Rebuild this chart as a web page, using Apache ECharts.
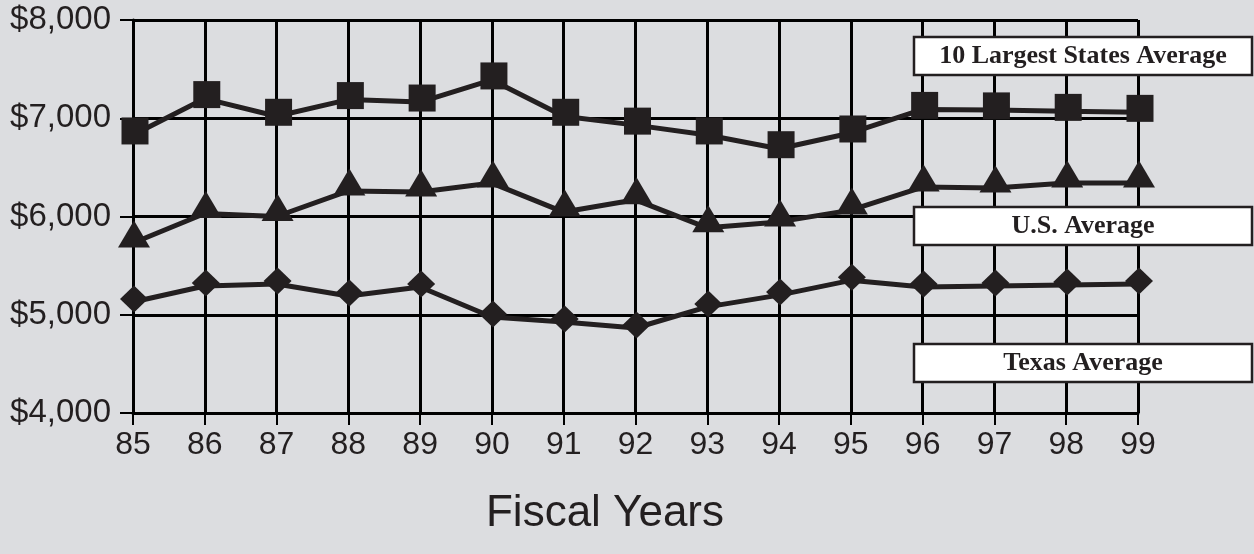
<!DOCTYPE html>
<html>
<head>
<meta charset="utf-8">
<style>
  html, body { margin: 0; padding: 0; background: #dcdde0; }
  #chart { width: 1254px; height: 554px; }
</style>
<script src="https://cdn.jsdelivr.net/npm/echarts@6/dist/echarts.min.js"></script>
</head>
<body>
<div id="chart"></div>
<script>
// Fiscal years (19xx)
const years = ['85','86','87','88','89','90','91','92','93','94','95','96','97','98','99'];

// Average per-student spending, dollars
const largestStates = [6830, 7200, 7020, 7190, 7165, 7390, 7020, 6930, 6830, 6690, 6850, 7090, 7085, 7070, 7060];
const usAverage     = [5730, 6030, 6000, 6260, 6250, 6340, 6045, 6170, 5885, 5945, 6065, 6300, 6290, 6340, 6340];
const texasAverage  = [5130, 5293, 5313, 5190, 5282, 4977, 4926, 4865, 5080, 5200, 5350, 5282, 5293, 5303, 5313];

// Series labels shown in the boxes at the right
const seriesNames = ['10 Largest States Average', 'U.S. Average', 'Texas Average'];
const axisTitle = 'Fiscal Years';

const ink = '#231f20';
const chart = echarts.init(document.getElementById('chart'));

function money(v) {
  return '$' + v.toLocaleString('en-US');
}

function lineSeries(name, data, symbol, size, offset) {
  return {
    name: name,
    type: 'line',
    data: data,
    symbol: symbol,
    symbolSize: size,
    symbolOffset: offset,
    showAllSymbol: true,
    lineStyle: { color: ink, width: 5 },
    itemStyle: { color: ink, borderWidth: 0 },
    emphasis: { disabled: true },
    animation: false,
    z: 5
  };
}

// White name box drawn over the grid
function labelBox(text, top) {
  return [
    {
      type: 'rect',
      z: 100,
      zlevel: 1,
      shape: { x: 914, y: top, width: 338, height: 38 },
      style: { fill: '#ffffff', stroke: ink, lineWidth: 2.5 }
    },
    {
      type: 'text',
      z: 101,
      zlevel: 1,
      x: 1083,
      y: top + 19,
      style: {
        text: text,
        fill: ink,
        font: 'bold 26px "Liberation Serif", "DejaVu Serif", serif',
        align: 'center',
        verticalAlign: 'middle'
      }
    }
  ];
}

chart.setOption({
  backgroundColor: '#dcdde0',
  animation: false,
  grid: { left: 133, right: 116, top: 20, bottom: 141, containLabel: false },
  xAxis: {
    type: 'category',
    data: years,
    boundaryGap: false,
    axisLine: { show: true, lineStyle: { color: '#000', width: 3 } },
    axisTick: { show: true, alignWithLabel: true, length: 12, lineStyle: { color: '#000', width: 2 } },
    axisLabel: {
      color: ink,
      fontSize: 32,
      fontFamily: '"Liberation Sans", Arial, sans-serif',
      margin: 16
    },
    splitLine: { show: true, lineStyle: { color: '#000', width: 3 } }
  },
  yAxis: {
    type: 'value',
    min: 4000,
    max: 8000,
    interval: 1000,
    axisLine: { show: true, lineStyle: { color: '#000', width: 3 } },
    axisTick: { show: true, length: 13, lineStyle: { color: '#000', width: 2 } },
    axisLabel: {
      color: ink,
      fontSize: 33,
      fontFamily: '"Liberation Sans", Arial, sans-serif',
      margin: 22,
      formatter: money
    },
    splitLine: { show: true, lineStyle: { color: '#000', width: 3 } }
  },
  series: [
    lineSeries(seriesNames[0], largestStates, 'rect', [27, 27], [2, -4]),
    lineSeries(seriesNames[1], usAverage, 'triangle', [32, 27], [1, -9]),
    lineSeries(seriesNames[2], texasAverage, 'diamond', [28, 27], [1, -3])
  ],
  graphic: [].concat(
    labelBox(seriesNames[0], 37),
    labelBox(seriesNames[1], 207),
    labelBox(seriesNames[2], 344),
    [{
      type: 'text',
      x: 605,
      y: 514,
      z: 100,
      style: {
        text: axisTitle,
        fill: ink,
        font: '44px "Liberation Sans", Arial, sans-serif',
        align: 'center',
        verticalAlign: 'middle'
      }
    }]
  )
});
</script>
</body>
</html>
